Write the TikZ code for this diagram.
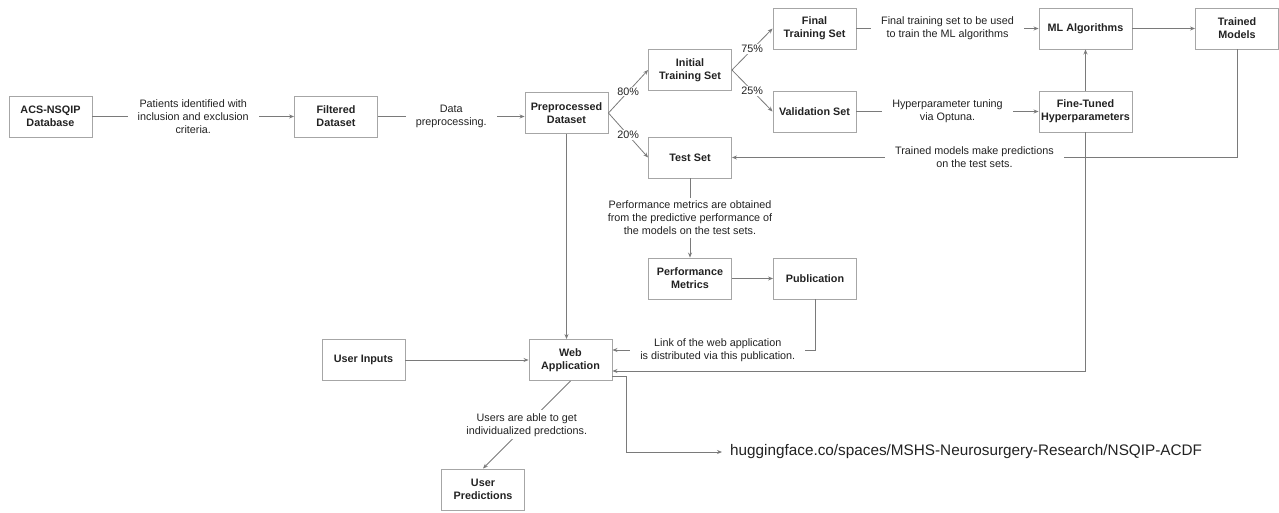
\documentclass[tikz,border=0pt]{standalone}
\usepackage{fontspec}
\setmainfont{Liberation Sans}
\usepackage{xcolor}
\usetikzlibrary{positioning, arrows.meta}

\definecolor{boxline}{HTML}{A6A6A6}
\definecolor{arrowline}{HTML}{7A7A7A}
\definecolor{ink}{HTML}{222222}

\tikzset{
  box/.style={draw=boxline, line width=0.9pt, text=ink, align=center,
    font=\fontsize{10.8}{13}\selectfont\bfseries,
    minimum width=83pt, minimum height=41pt, inner sep=2pt},
  wide/.style={box, minimum width=93pt},
  note/.style={text=ink, align=center, fill=white,
    font=\fontsize{10.8}{13}\selectfont, inner xsep=10pt, inner ysep=3pt},
  pct/.style={text=ink, fill=white, font=\fontsize{10.8}{13}\selectfont, inner sep=1pt},
  link/.style={draw=arrowline, line width=0.8pt},
}

\begin{document}
\begin{tikzpicture}[x=1pt, y=-1pt, on grid, >={Stealth[length=5pt, width=4pt]}]
    \useasboundingbox (0,0) rectangle (1279,512);

    % data preparation
    \node[box] (acs) at (50.5,116.5) {ACS-NSQIP\\Database};
    \node[box] (filt) [right=285.5pt of acs] {Filtered\\Dataset};
    \node[box] (preproc) at (566.5,113) {Preprocessed\\Dataset};

    % splits
    \node[box] (init) at (690,70) {Initial\\Training Set};
    \node[box] (test) [below=87.5pt of init] {Test Set};
    \node[box] (final) at (814.5,28.5) {Final\\Training Set};
    \node[box] (valid) [below=83pt of final] {Validation Set};

    % models
    \node[wide] (mlalg) [right=271pt of final] {ML Algorithms};
    \node[wide] (finet) [below=83pt of mlalg] {Fine-Tuned\\Hyperparameters};
    \node[box] (trained) [right=151.5pt of mlalg] {Trained\\Models};

    % results and app
    \node[box] (perf) [below=121pt of test] {Performance\\Metrics};
    \node[box] (pub) [right=125pt of perf] {Publication};
    \node[box] (webapp) at (570.5,360) {Web\\Application};
    \node[box] (uinp) [left=207pt of webapp] {User Inputs};
    \node[box] (upred) at (483,489.5) {User\\Predictions};
    \node[anchor=west, inner xsep=8pt, text=ink, font=\fontsize{15.3}{18}\selectfont] (url) at (722,452)
        {huggingface.co/spaces/MSHS-Neurosurgery-Research/NSQIP-ACDF};

    \draw[link,->] (acs) -- node[note] {Patients identified with\\inclusion and exclusion\\criteria.} (filt);
    \draw[link,->] (filt) -- node[note] {Data\\preprocessing.} (filt -| preproc.west);
    \draw[link,->] (preproc.east) -- node[pct] {80\%} (init.west);
    \draw[link,->] (preproc.east) -- node[pct] {20\%} (test.west);
    \draw[link,->] (init.east) -- node[pct] {75\%} (final.west);
    \draw[link,->] (init.east) -- node[pct] {25\%} (valid.west);
    \draw[link,->] (final) -- node[note] {Final training set to be used\\to train the ML algorithms} (mlalg);
    \draw[link,->] (valid) -- node[note] {Hyperparameter tuning\\via Optuna.} (finet);
    \draw[link,->] (mlalg) -- (trained);
    \draw[link,->] (finet) -- (mlalg);
    \draw[link,->] (trained.south) |- node[note, pos=0.76] {Trained models make predictions\\on the test sets.} (test.east);
    \draw[link,->] (test) -- node[note] {Performance metrics are obtained\\from the predictive performance of\\the models on the test sets.} (perf);
    \draw[link,->] (perf) -- (pub);
    \draw[link,->] (pub.south) |- node[note, pos=0.74] {Link of the web application\\is distributed via this publication.} ([yshift=10pt]webapp.east);
    \draw[link,->] (finet.south) |- ([yshift=-11pt]webapp.east);
    \draw[link,->] (preproc.south) -- (preproc.south |- webapp.north);
    \draw[link,->] (uinp) -- (webapp);
    \draw[link,->] (webapp.south) -- node[note] {Users are able to get\\individualized predctions.} (upred.north);
    \draw[link,->] ([yshift=-16pt]webapp.east) -- ++(14pt,0) |- (url.west);
\end{tikzpicture}
\end{document}
